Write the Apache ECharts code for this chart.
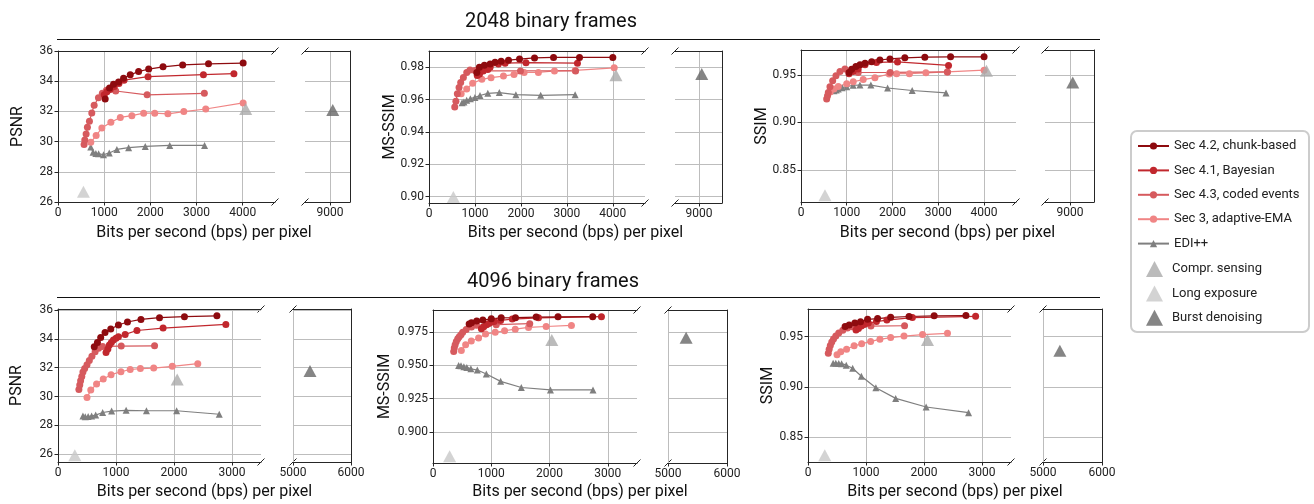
<!DOCTYPE html>
<html>
<head>
<meta charset="utf-8">
<script src="https://cdn.jsdelivr.net/npm/echarts@6/dist/echarts.min.js"></script>
<style>
html,body{margin:0;padding:0;background:#fff;}
#chart{width:1314px;height:504px;}
</style>
</head>
<body>
<div id="chart"></div>
<script>
// ---------------- DATA ----------------
const seriesNames = ['Sec 4.2, chunk-based','Sec 4.1, Bayesian','Sec 4.3, coded events','Sec 3, adaptive-EMA','EDI++','Compr. sensing','Long exposure','Burst denoising'];
const groupTitles = ['2048 binary frames','4096 binary frames'];
const xAxisTitle = 'Bits per second (bps) per pixel';
const metricNames = ['PSNR','MS-SSIM','SSIM','PSNR','MS-SSIM','SSIM'];

const xTicksTop = [0,1000,2000,3000,4000];
const xTicksBottom = [0,1000,2000,3000];
const breakTicksTop = [9000];
const breakTicksBottom = [5000,6000];
const yTicksPsnrTop = [26,28,30,32,34,36];
const yTicksMsTop = [0.90,0.92,0.94,0.96,0.98];
const yTicksSsimTop = [0.85,0.90,0.95];
const yTicksPsnrBot = [26,28,30,32,34,36];
const yTicksMsBot = [0.900,0.925,0.950,0.975];
const yTicksSsimBot = [0.85,0.90,0.95];

// 2048 frames - PSNR
const psnr2048_chunk = [[1022,32.82],[1116,33.55],[1203,33.8],[1312,33.95],[1420,34.2],[1565,34.42],[1746,34.64],[1964,34.8],[2275,34.95],[2700,35.08],[3260,35.15],[4010,35.2]];
const psnr2048_bayes = [[1000,33.1],[1060,33.3],[1130,33.45],[1220,33.65],[1320,33.85],[1430,34.07],[1950,34.3],[3150,34.43],[3810,34.5]];
const psnr2048_coded = [[565,29.8],[580,30.1],[609,30.5],[637,30.95],[681,31.35],[732,31.9],[783,32.4],[876,32.9],[960,33.2],[1050,33.4],[1250,33.35],[1930,33.1],[3170,33.2]];
const psnr2048_ema = [[710,29.95],[826,30.4],[950,30.9],[1145,31.28],[1350,31.6],[1600,31.72],[1855,31.88],[2095,31.88],[2380,31.84],[2725,31.99],[3200,32.16],[4010,32.56]];
const psnr2048_edi = [[710,29.65],[760,29.3],[820,29.22],[880,29.2],[985,29.13],[1110,29.25],[1275,29.48],[1530,29.6],[1890,29.68],[2420,29.75],[3175,29.75]];
const psnr2048_compr = [[4065,32.16]];
const psnr2048_long = [[551,26.68]];
const psnr2048_burst = [[9060,32.1]];

// 2048 frames - MS-SSIM
const ms2048_chunk = [[1040,0.9767],[1096,0.98],[1205,0.9812],[1330,0.982],[1438,0.983],[1570,0.9837],[1730,0.9843],[1970,0.985],[2296,0.9857],[2710,0.986],[3275,0.986],[4000,0.986]];
const ms2048_bayes = [[1050,0.9748],[1100,0.9758],[1180,0.9777],[1280,0.9785],[1330,0.980],[1510,0.9819],[1656,0.9825],[2110,0.9828],[3230,0.9825]];
const ms2048_coded = [[560,0.9553],[585,0.959],[617,0.9635],[654,0.9674],[690,0.9705],[748,0.9736],[821,0.9767],[893,0.9783],[1000,0.978],[1100,0.9777],[1990,0.9777],[3190,0.9777]];
const ms2048_ema = [[700,0.9635],[820,0.9665],[950,0.970],[1150,0.9725],[1350,0.9735],[1620,0.9745],[1850,0.9755],[2070,0.9767],[2380,0.9767],[2730,0.9777],[3180,0.978],[4030,0.9796]];
const ms2048_edi = [[720,0.958],[760,0.9585],[820,0.9595],[900,0.9605],[1000,0.9613],[1110,0.9625],[1280,0.9638],[1530,0.9643],[1890,0.963],[2430,0.9626],[3180,0.963]];
const ms2048_compr = [[4068,0.975]];
const ms2048_long = [[530,0.8997]];
const ms2048_burst = [[9060,0.9758]];

// 2048 frames - SSIM
const ssim2048_chunk = [[1050,0.9525],[1107,0.9558],[1200,0.9587],[1290,0.9605],[1400,0.962],[1545,0.9638],[1725,0.9655],[1945,0.9666],[2270,0.9678],[2707,0.9685],[3270,0.9688],[4002,0.9688]];
const ssim2048_bayes = [[1050,0.9512],[1140,0.9535],[1250,0.956],[1400,0.9605],[1650,0.963],[2110,0.9635],[3225,0.9598]];
const ssim2048_coded = [[561,0.9246],[580,0.928],[597,0.9315],[633,0.9375],[692,0.9437],[764,0.949],[852,0.9535],[961,0.956],[1251,0.9524],[1950,0.9525],[3200,0.953]];
const ssim2048_ema = [[640,0.932],[720,0.935],[815,0.9378],[1000,0.9405],[1142,0.9427],[1360,0.945],[1616,0.947],[1928,0.9508],[2090,0.9512],[2370,0.9512],[2730,0.952],[3200,0.953],[4002,0.9548]];
const ssim2048_edi = [[720,0.9333],[770,0.934],[815,0.935],[900,0.9365],[1000,0.9375],[1140,0.939],[1288,0.9392],[1528,0.9392],[1893,0.9361],[2431,0.9335],[3170,0.931]];
const ssim2048_compr = [[4054,0.9542]];
const ssim2048_long = [[524,0.8236]];
const ssim2048_burst = [[9060,0.942]];

// 4096 frames - PSNR
const psnr4096_chunk = [[625,33.45],[680,33.75],[736,34.1],[811,34.45],[910,34.68],[1042,34.96],[1198,35.17],[1430,35.35],[1750,35.47],[2180,35.54],[2740,35.6]];
const psnr4096_bayes = [[828,33.05],[860,33.3],[886,33.57],[920,33.75],[955,33.92],[1000,34.05],[1042,34.15],[1158,34.31],[1361,34.58],[1812,34.75],[2894,35.0]];
const psnr4096_coded = [[360,30.5],[375,30.8],[390,31.1],[410,31.4],[430,31.7],[460,31.95],[500,32.2],[540,32.5],[585,32.8],[640,33.1],[700,33.35],[770,33.48],[1090,33.5],[1665,33.52]];
const psnr4096_ema = [[500,29.93],[565,30.45],[665,30.87],[780,31.22],[915,31.52],[1085,31.72],[1245,31.88],[1420,31.94],[1650,31.98],[1970,32.1],[2410,32.28]];
const psnr4096_edi = [[430,28.65],[470,28.6],[520,28.62],[580,28.66],[650,28.72],[770,28.9],[925,29.0],[1175,29.05],[1525,29.02],[2045,29.02],[2780,28.78]];
const psnr4096_compr = [[2055,31.19]];
const psnr4096_long = [[290,25.93]];
const psnr4096_burst = [[5293,31.78]];

// 4096 frames - MS-SSIM
const ms4096_chunk = [[620,0.981],[660,0.982],[750,0.9833],[855,0.984],[1000,0.985],[1170,0.9857],[1415,0.9858],[1770,0.9863],[2145,0.9865],[2740,0.9866]];
const ms4096_bayes = [[830,0.9775],[870,0.979],[920,0.9805],[960,0.9815],[1000,0.9825],[1050,0.983],[1160,0.9838],[1360,0.9848],[1810,0.9857],[2890,0.9866]];
const ms4096_coded = [[355,0.9605],[365,0.963],[380,0.9655],[400,0.968],[425,0.97],[450,0.9715],[480,0.973],[510,0.9748],[570,0.977],[660,0.9788],[745,0.9802],[1085,0.9806],[1660,0.9813]];
const ms4096_ema = [[486,0.9612],[560,0.9655],[657,0.9683],[782,0.9706],[902,0.9735],[1068,0.9748],[1228,0.976],[1411,0.9772],[1639,0.9785],[1941,0.9792],[2375,0.98]];
const ms4096_edi = [[440,0.95],[480,0.9497],[530,0.949],[580,0.9485],[650,0.9475],[760,0.9465],[915,0.9435],[1160,0.938],[1515,0.9334],[2015,0.9316],[2745,0.9316]];
const ms4096_compr = [[2038,0.969]];
const ms4096_long = [[285,0.8817]];
const ms4096_burst = [[5307,0.9708]];

// 4096 frames - SSIM
const ssim4096_chunk = [[640,0.960],[710,0.9616],[808,0.9636],[906,0.9649],[1027,0.9672],[1200,0.968],[1425,0.9692],[1742,0.97],[2175,0.9707],[2723,0.971]];
const ssim4096_bayes = [[828,0.9565],[870,0.958],[920,0.9605],[970,0.962],[1040,0.9635],[1180,0.965],[1360,0.9665],[1800,0.969],[2890,0.9702]];
const ssim4096_coded = [[350,0.9335],[365,0.9375],[385,0.941],[410,0.9445],[440,0.9475],[480,0.9505],[530,0.9535],[600,0.9562],[680,0.9585],[760,0.9598],[860,0.9605],[1085,0.9605],[1665,0.9608]];
const ssim4096_ema = [[500,0.932],[565,0.935],[665,0.9375],[795,0.9408],[925,0.9428],[1080,0.9452],[1240,0.9473],[1425,0.949],[1655,0.9505],[1975,0.952],[2405,0.9533]];
const ssim4096_edi = [[433,0.9235],[480,0.9235],[530,0.9233],[580,0.923],[660,0.9215],[770,0.9185],[920,0.9105],[1170,0.899],[1512,0.8884],[2037,0.8798],[2768,0.8742]];
const ssim4096_compr = [[2060,0.9467]];
const ssim4096_long = [[289,0.8318]];
const ssim4096_burst = [[5286,0.936]];

// ---------------- LAYOUT / STYLE ----------------
const FONT = 'Roboto';
const TXT = '#222';
const GRIDC = '#bdbdbd';
const SPINE = '#262626';
const colors = {
  chunk: '#8e0b0f', bayes: '#c1272d', coded: '#d65a5e', ema: '#f08585',
  edi: '#7f7f7f', compr: '#aaaaaa', long: '#c8c8c8', burst: '#676767'
};

const panels = [
  {main:[58,51,217,151], brk:[305,45], xMax:4700, brkRange:[8457,9435], xTicks:xTicksTop, brkTicks:breakTicksTop,
   y:[26,36], yTicks:yTicksPsnrTop, dec:0, yNameX:18, row:0,
   d:{chunk:psnr2048_chunk,bayes:psnr2048_bayes,coded:psnr2048_coded,ema:psnr2048_ema,edi:psnr2048_edi,compr:psnr2048_compr,long:psnr2048_long,burst:psnr2048_burst}},
  {main:[429,51,216,152], brk:[675,47], xMax:4700, brkRange:[8477,9501], xTicks:xTicksTop, brkTicks:breakTicksTop,
   y:[0.896,0.990], yTicks:yTicksMsTop, dec:2, yNameX:390, row:0,
   d:{chunk:ms2048_chunk,bayes:ms2048_bayes,coded:ms2048_coded,ema:ms2048_ema,edi:ms2048_edi,compr:ms2048_compr,long:ms2048_long,burst:ms2048_burst}},
  {main:[801,50,215,152], brk:[1045,49], xMax:4700, brkRange:[8454,9524], xTicks:xTicksTop, brkTicks:breakTicksTop,
   y:[0.8165,0.976], yTicks:yTicksSsimTop, dec:2, yNameX:762, row:0,
   d:{chunk:ssim2048_chunk,bayes:ssim2048_bayes,coded:ssim2048_coded,ema:ssim2048_ema,edi:ssim2048_edi,compr:ssim2048_compr,long:ssim2048_long,burst:ssim2048_burst}},
  {main:[58,309,203,153], brk:[293,58], xMax:3500, brkRange:[5000,6000], xTicks:xTicksBottom, brkTicks:breakTicksBottom,
   y:[25.47,36.07], yTicks:yTicksPsnrBot, dec:0, yNameX:17, row:1,
   d:{chunk:psnr4096_chunk,bayes:psnr4096_bayes,coded:psnr4096_coded,ema:psnr4096_ema,edi:psnr4096_edi,compr:psnr4096_compr,long:psnr4096_long,burst:psnr4096_burst}},
  {main:[433,310,204,153], brk:[668,59], xMax:3500, brkRange:[5000,6000], xTicks:xTicksBottom, brkTicks:breakTicksBottom,
   y:[0.8767,0.9916], yTicks:yTicksMsBot, dec:3, yNameX:385, row:1,
   d:{chunk:ms4096_chunk,bayes:ms4096_bayes,coded:ms4096_coded,ema:ms4096_ema,edi:ms4096_edi,compr:ms4096_compr,long:ms4096_long,burst:ms4096_burst}},
  {main:[808,309,203,153], brk:[1043,59], xMax:3500, brkRange:[5000,6000], xTicks:xTicksBottom, brkTicks:breakTicksBottom,
   y:[0.825,0.9775], yTicks:yTicksSsimBot, dec:2, yNameX:768, row:1,
   d:{chunk:ssim4096_chunk,bayes:ssim4096_bayes,coded:ssim4096_coded,ema:ssim4096_ema,edi:ssim4096_edi,compr:ssim4096_compr,long:ssim4096_long,burst:ssim4096_burst}}
];

const option = {
  animation: false,
  backgroundColor: '#fff',
  textStyle: {fontFamily: FONT},
  grid: [], xAxis: [], yAxis: [], series: [], graphic: []
};

function gridDef(left, top, width, height) {
  return {left, top, width, height, containLabel: false, outerBoundsMode: 'none'};
}
function bottomX(gi, min, max, ticks) {
  return {
    type: 'value', gridIndex: gi, position: 'bottom', min, max,
    axisLine: {show: true, onZero: false, lineStyle: {color: SPINE, width: 1}},
    axisTick: {show: true, inside: false, length: 3.5, customValues: ticks, lineStyle: {color: SPINE, width: 1}},
    axisLabel: {show: true, customValues: ticks, margin: 5, fontSize: 12, fontFamily: FONT, color: TXT,
      formatter: (v) => String(Math.round(v)), hideOverlap: false, showMinLabel: true, showMaxLabel: true},
    splitLine: {show: true, lineStyle: {color: GRIDC, width: 1}}
  };
}
function topX(gi, min, max, ticks) {
  return {
    type: 'value', gridIndex: gi, position: 'top', min, max,
    axisLine: {show: true, onZero: false, lineStyle: {color: SPINE, width: 1}},
    axisTick: {show: false, customValues: ticks}, axisLabel: {show: false, customValues: ticks},
    splitLine: {show: false}
  };
}

const keys = ['edi','ema','coded','bayes','chunk'];
const keyName = {chunk: seriesNames[0], bayes: seriesNames[1], coded: seriesNames[2], ema: seriesNames[3], edi: seriesNames[4]};

panels.forEach((p, pi) => {
  const gMain = option.grid.length;
  option.grid.push(gridDef(p.main[0], p.main[1], p.main[2], p.main[3]));
  option.grid.push(gridDef(p.brk[0], p.main[1], p.brk[1], p.main[3]));
  const gBrk = gMain + 1;

  const xMain = option.xAxis.length;
  option.xAxis.push(bottomX(gMain, 0, p.xMax, p.xTicks));
  option.xAxis.push(topX(gMain, 0, p.xMax, p.xTicks));
  const xBrk = option.xAxis.length;
  option.xAxis.push(bottomX(gBrk, p.brkRange[0], p.brkRange[1], p.brkTicks));
  option.xAxis.push(topX(gBrk, p.brkRange[0], p.brkRange[1], p.brkTicks));

  const yMain = option.yAxis.length;
  option.yAxis.push({
    type: 'value', gridIndex: gMain, position: 'left', min: p.y[0], max: p.y[1],
    axisLine: {show: true, onZero: false, lineStyle: {color: SPINE, width: 1}},
    axisTick: {show: true, length: 3.5, customValues: p.yTicks, lineStyle: {color: SPINE}},
    axisLabel: {show: true, customValues: p.yTicks, margin: 5, fontSize: 12, fontFamily: FONT, color: TXT,
      formatter: (v) => Number(v).toFixed(p.dec), hideOverlap: false},
    splitLine: {show: true, lineStyle: {color: GRIDC, width: 1}}
  });
  const yBrk = option.yAxis.length;
  option.yAxis.push({
    type: 'value', gridIndex: gBrk, position: 'right', min: p.y[0], max: p.y[1],
    axisLine: {show: true, onZero: false, lineStyle: {color: SPINE, width: 1}},
    axisTick: {show: false, customValues: p.yTicks},
    axisLabel: {show: false, customValues: p.yTicks},
    splitLine: {show: true, lineStyle: {color: GRIDC, width: 1}}
  });

  keys.forEach((k) => {
    const isEdi = k === 'edi';
    option.series.push({
      type: 'line', name: keyName[k], data: p.d[k], xAxisIndex: xMain, yAxisIndex: yMain,
      symbol: isEdi ? 'triangle' : 'circle', symbolSize: 7, showSymbol: true,
      color: colors[k],
      lineStyle: {color: colors[k], width: 1.2},
      itemStyle: {color: colors[k]},
      emphasis: {disabled: true}, silent: true, clip: false, z: 3
    });
  });
  option.series.push({type:'scatter', name: seriesNames[6], data: p.d.long, xAxisIndex: xMain, yAxisIndex: yMain,
    symbol:'triangle', symbolSize:[13,12], color: colors.long, itemStyle:{color: colors.long}, silent:true, z:4});
  option.series.push({type:'scatter', name: seriesNames[5], data: p.d.compr, xAxisIndex: xMain, yAxisIndex: yMain,
    symbol:'triangle', symbolSize:[13,12], color: colors.compr, itemStyle:{color: colors.compr}, silent:true, z:4});
  option.series.push({type:'scatter', name: seriesNames[7], data: p.d.burst, xAxisIndex: xBrk, yAxisIndex: yBrk,
    symbol:'triangle', symbolSize:[13,12], color: colors.burst, itemStyle:{color: colors.burst}, silent:true, z:4});

  // decorations: axis titles and break marks (derived from layout)
  const top = p.main[1], bottom = p.main[1] + p.main[3];
  const mainRight = p.main[0] + p.main[2];
  const brkLeft = p.brk[0], brkRight = p.brk[0] + p.brk[1];
  option.graphic.push({type:'text', x: (p.main[0] + brkRight) / 2, y: p.row === 0 ? 233 : 492, silent:true,
    style:{text: xAxisTitle, fontSize: 16, fontFamily: FONT, fill: '#111', align:'center', verticalAlign:'middle', textAlign:'center', textVerticalAlign:'middle'}});
  option.graphic.push({type:'text', x: p.yNameX, y: (top + bottom) / 2, rotation: Math.PI / 2, silent:true,
    style:{text: metricNames[pi], fontSize: 16, fontFamily: FONT, fill: '#111', align:'center', verticalAlign:'middle', textAlign:'center', textVerticalAlign:'middle'}});
  const dm = 3.5;
  [[mainRight, top],[mainRight, bottom],[brkLeft, top],[brkLeft, bottom]].forEach(([cx, cy]) => {
    option.graphic.push({type:'line', silent:true, shape:{x1: cx - dm, y1: cy + dm, x2: cx + dm, y2: cy - dm},
      style:{stroke: SPINE, lineWidth: 1}});
  });
});

// titles and rules
option.graphic.push({type:'text', x: 551, y: 22, silent:true,
  style:{text: groupTitles[0], fontSize: 20, fontFamily: FONT, fill:'#111', align:'center', verticalAlign:'middle', textAlign:'center', textVerticalAlign:'middle'}});
option.graphic.push({type:'text', x: 553, y: 282, silent:true,
  style:{text: groupTitles[1], fontSize: 20, fontFamily: FONT, fill:'#111', align:'center', verticalAlign:'middle', textAlign:'center', textVerticalAlign:'middle'}});
option.graphic.push({type:'line', silent:true, shape:{x1:57, y1:39.5, x2:1100, y2:39.5}, style:{stroke:'#111', lineWidth:1.2}});
option.graphic.push({type:'line', silent:true, shape:{x1:57, y1:297.5, x2:1100, y2:297.5}, style:{stroke:'#111', lineWidth:1.2}});
// legend frame
option.graphic.push({type:'rect', silent:true, z:-1, shape:{x:1131, y:131, width:178, height:201, r:6},
  style:{fill:'none', stroke:'#cccccc', lineWidth:2}});

option.legend = [
  {orient:'vertical', left:1137, top:138, itemWidth:31, itemHeight:9, itemGap:8.4, padding:0, selectedMode:false,
   data: seriesNames.slice(0,5),
   textStyle:{fontSize:13, fontFamily:FONT, color:TXT, lineHeight:16}},
  {orient:'vertical', left:1146, top:261, itemWidth:17, itemHeight:16, itemGap:8.4, padding:0, selectedMode:false,
   symbolKeepAspect: true,
   data: [seriesNames[5], seriesNames[6], seriesNames[7]],
   textStyle:{fontSize:13, fontFamily:FONT, color:TXT, lineHeight:16, padding:[0,0,0,4]}}
];

const chart = echarts.init(document.getElementById('chart'), null, {renderer:'canvas', width:1314, height:504});
chart.setOption(option);
</script>
</body>
</html>
